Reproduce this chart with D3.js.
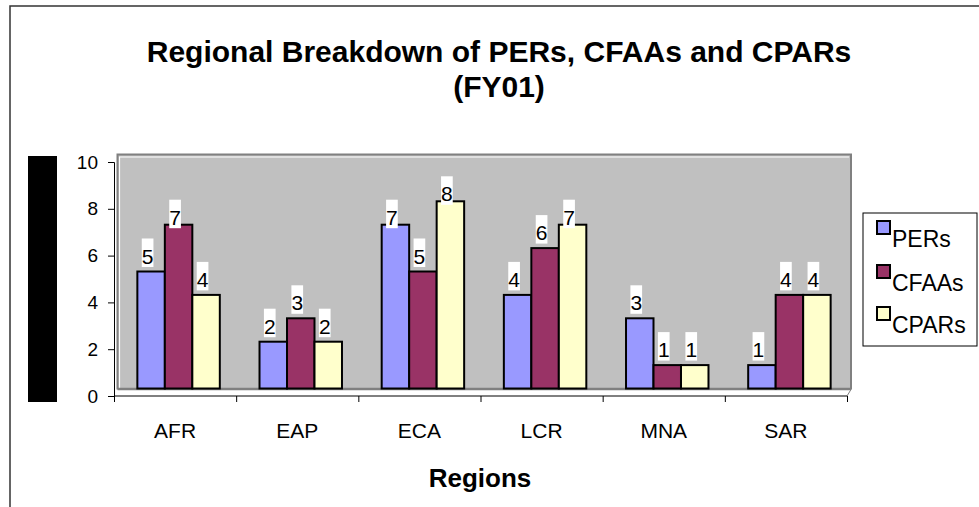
<!DOCTYPE html>
<html><head><meta charset="utf-8">
<script src="https://cdn.jsdelivr.net/npm/d3@7"></script>
<style>
html,body{margin:0;padding:0;background:#fff;}
svg{display:block;font-family:Arial,"Liberation Sans",sans-serif;}
</style></head>
<body>
<svg id="chart" width="979" height="507"></svg>
<script>
const categories = ["AFR","EAP","ECA","LCR","MNA","SAR"];
const seriesNames = ["PERs","CFAAs","CPARs"];
const pers  = [5,2,7,4,3,1];
const cfaas = [7,3,5,6,1,4];
const cpars = [4,2,8,7,1,4];
const yTicks = [0,2,4,6,8,10];
const colors = ["#9999FF","#993366","#FFFFCC"];
const titleLines = ["Regional Breakdown of PERs, CFAAs and CPARs","(FY01)"];
const xTitle = "Regions";

(function(){
const seriesValues = [pers, cfaas, cpars];
const svg = d3.select("#chart");

// chart border
svg.append("path").attr("d","M10,507 V6 H979").attr("fill","none").attr("stroke","#333").attr("stroke-width",1.5);

// title
svg.append("text").attr("x",499).attr("y",62).attr("text-anchor","middle")
  .attr("font-size",30).attr("font-weight","bold").text(titleLines[0]);
svg.append("text").attr("x",499).attr("y",97).attr("text-anchor","middle")
  .attr("font-size",30).attr("font-weight","bold").text(titleLines[1]);

// y-axis title placeholder (black box)
svg.append("rect").attr("x",28).attr("y",156).attr("width",29).attr("height",246).attr("fill","#000");

const pL=114, pR=847, pB=396, pT=162;
const dx=3.5, dy=-7.5;
const y = d3.scaleLinear().domain([0,10]).range([pB,pT]);
const x0 = d3.scaleBand().domain(categories).range([pL,pR]).paddingInner(0.325).paddingOuter(0.1625);
const x1 = d3.scaleBand().domain(seriesNames).range([0,x0.bandwidth()]);

// wall
const wallL = pL+dx, wallR = pR+dx+0.5, wallT = y(10)+dy, wallB = y(0)+dy;
svg.append("rect").attr("x",wallL).attr("y",wallT).attr("width",wallR-wallL).attr("height",wallB-wallT)
  .attr("fill","#C0C0C0");
svg.append("path").attr("d",`M${wallL+2},${wallB} V${wallT+2.5} H${wallR-2}`).attr("fill","none").attr("stroke","#fff").attr("stroke-width",1.2);
svg.append("path").attr("d",`M${wallL},${wallB+1} V${wallT} H${wallR} V${wallB+1}`).attr("fill","none").attr("stroke","#808080").attr("stroke-width",2);
svg.append("line").attr("x1",wallL).attr("x2",wallR).attr("y1",wallB+0.5).attr("y2",wallB+0.5).attr("stroke","#808080").attr("stroke-width",2.5);
svg.append("line").attr("x1",wallR).attr("y1",wallB+1).attr("x2",pR).attr("y2",pB).attr("stroke","#808080").attr("stroke-width",1);

// bars
const barData = [];
categories.forEach((c,i)=>seriesNames.forEach((s,j)=>barData.push({c,s,j,v:seriesValues[j][i]})));

svg.append("g").selectAll("rect").data(barData).join("rect")
  .attr("x",d=>x0(d.c)+x1(d.s)+dx)
  .attr("y",d=>y(d.v)+dy)
  .attr("width",x1.bandwidth())
  .attr("height",d=>y(0)-y(d.v))
  .attr("fill",d=>colors[d.j])
  .attr("stroke","#000").attr("stroke-width",2);

// data labels
const lg = svg.append("g");
barData.forEach(d=>{
  const cx = x0(d.c)+x1(d.s)+x1.bandwidth()/2;
  const base = d.v>=7 ? y(d.v)+dy : y(d.v)+dy-8;
  const g = lg.append("g");
  const r = g.append("rect").attr("fill","#fff");
  const t = g.append("text").attr("x",cx).attr("y",base).attr("text-anchor","middle")
    .attr("font-size",21).text(d.v);
  const w = t.node().getComputedTextLength();
  r.attr("x",cx-w/2).attr("y",base-25).attr("width",w).attr("height",28.5);
});

// y axis
const yAxis = d3.axisLeft(y).tickValues(yTicks).tickSize(6).tickPadding(10);
const gy = svg.append("g").attr("transform",`translate(${pL},0)`).call(yAxis);
gy.selectAll("text").attr("font-size",19).attr("font-family","Arial,'Liberation Sans',sans-serif").attr("fill","#000");
gy.selectAll("line,path").attr("stroke","#000");

// x axis boundary ticks
const xb = d3.scaleLinear().domain([0,categories.length]).range([pL,pR]);
const gxb = svg.append("g").attr("transform",`translate(0,${pB})`)
  .call(d3.axisBottom(xb).ticks(categories.length).tickSize(6).tickFormat(""));
gxb.selectAll("line,path").attr("stroke","#000");
gxb.select("path").attr("d",`M${pL},0H${pR}`);
// x labels
const gx = svg.append("g").attr("transform",`translate(0,${pB})`)
  .call(d3.axisBottom(x0).tickSize(0).tickPadding(27));
gx.select("path").remove();
gx.selectAll("text").attr("font-size",21).attr("font-family","Arial,'Liberation Sans',sans-serif").attr("fill","#000");

// x title
svg.append("text").attr("x",480).attr("y",487).attr("text-anchor","middle")
  .attr("font-size",26).attr("font-weight","bold").text(xTitle);

// legend
const leg = svg.append("g");
leg.append("rect").attr("x",863).attr("y",213).attr("width",114).attr("height",133)
  .attr("fill","#fff").attr("stroke","#000").attr("stroke-width",1);
const legY = [221,265,307];
seriesNames.forEach((s,j)=>{
  leg.append("rect").attr("x",877).attr("y",legY[j]).attr("width",13).attr("height",13)
    .attr("fill",colors[j]).attr("stroke","#000").attr("stroke-width",2);
  leg.append("text").attr("x",892).attr("y",legY[j]+26).attr("font-size",23).text(s);
});
})();
</script>
</body></html>
